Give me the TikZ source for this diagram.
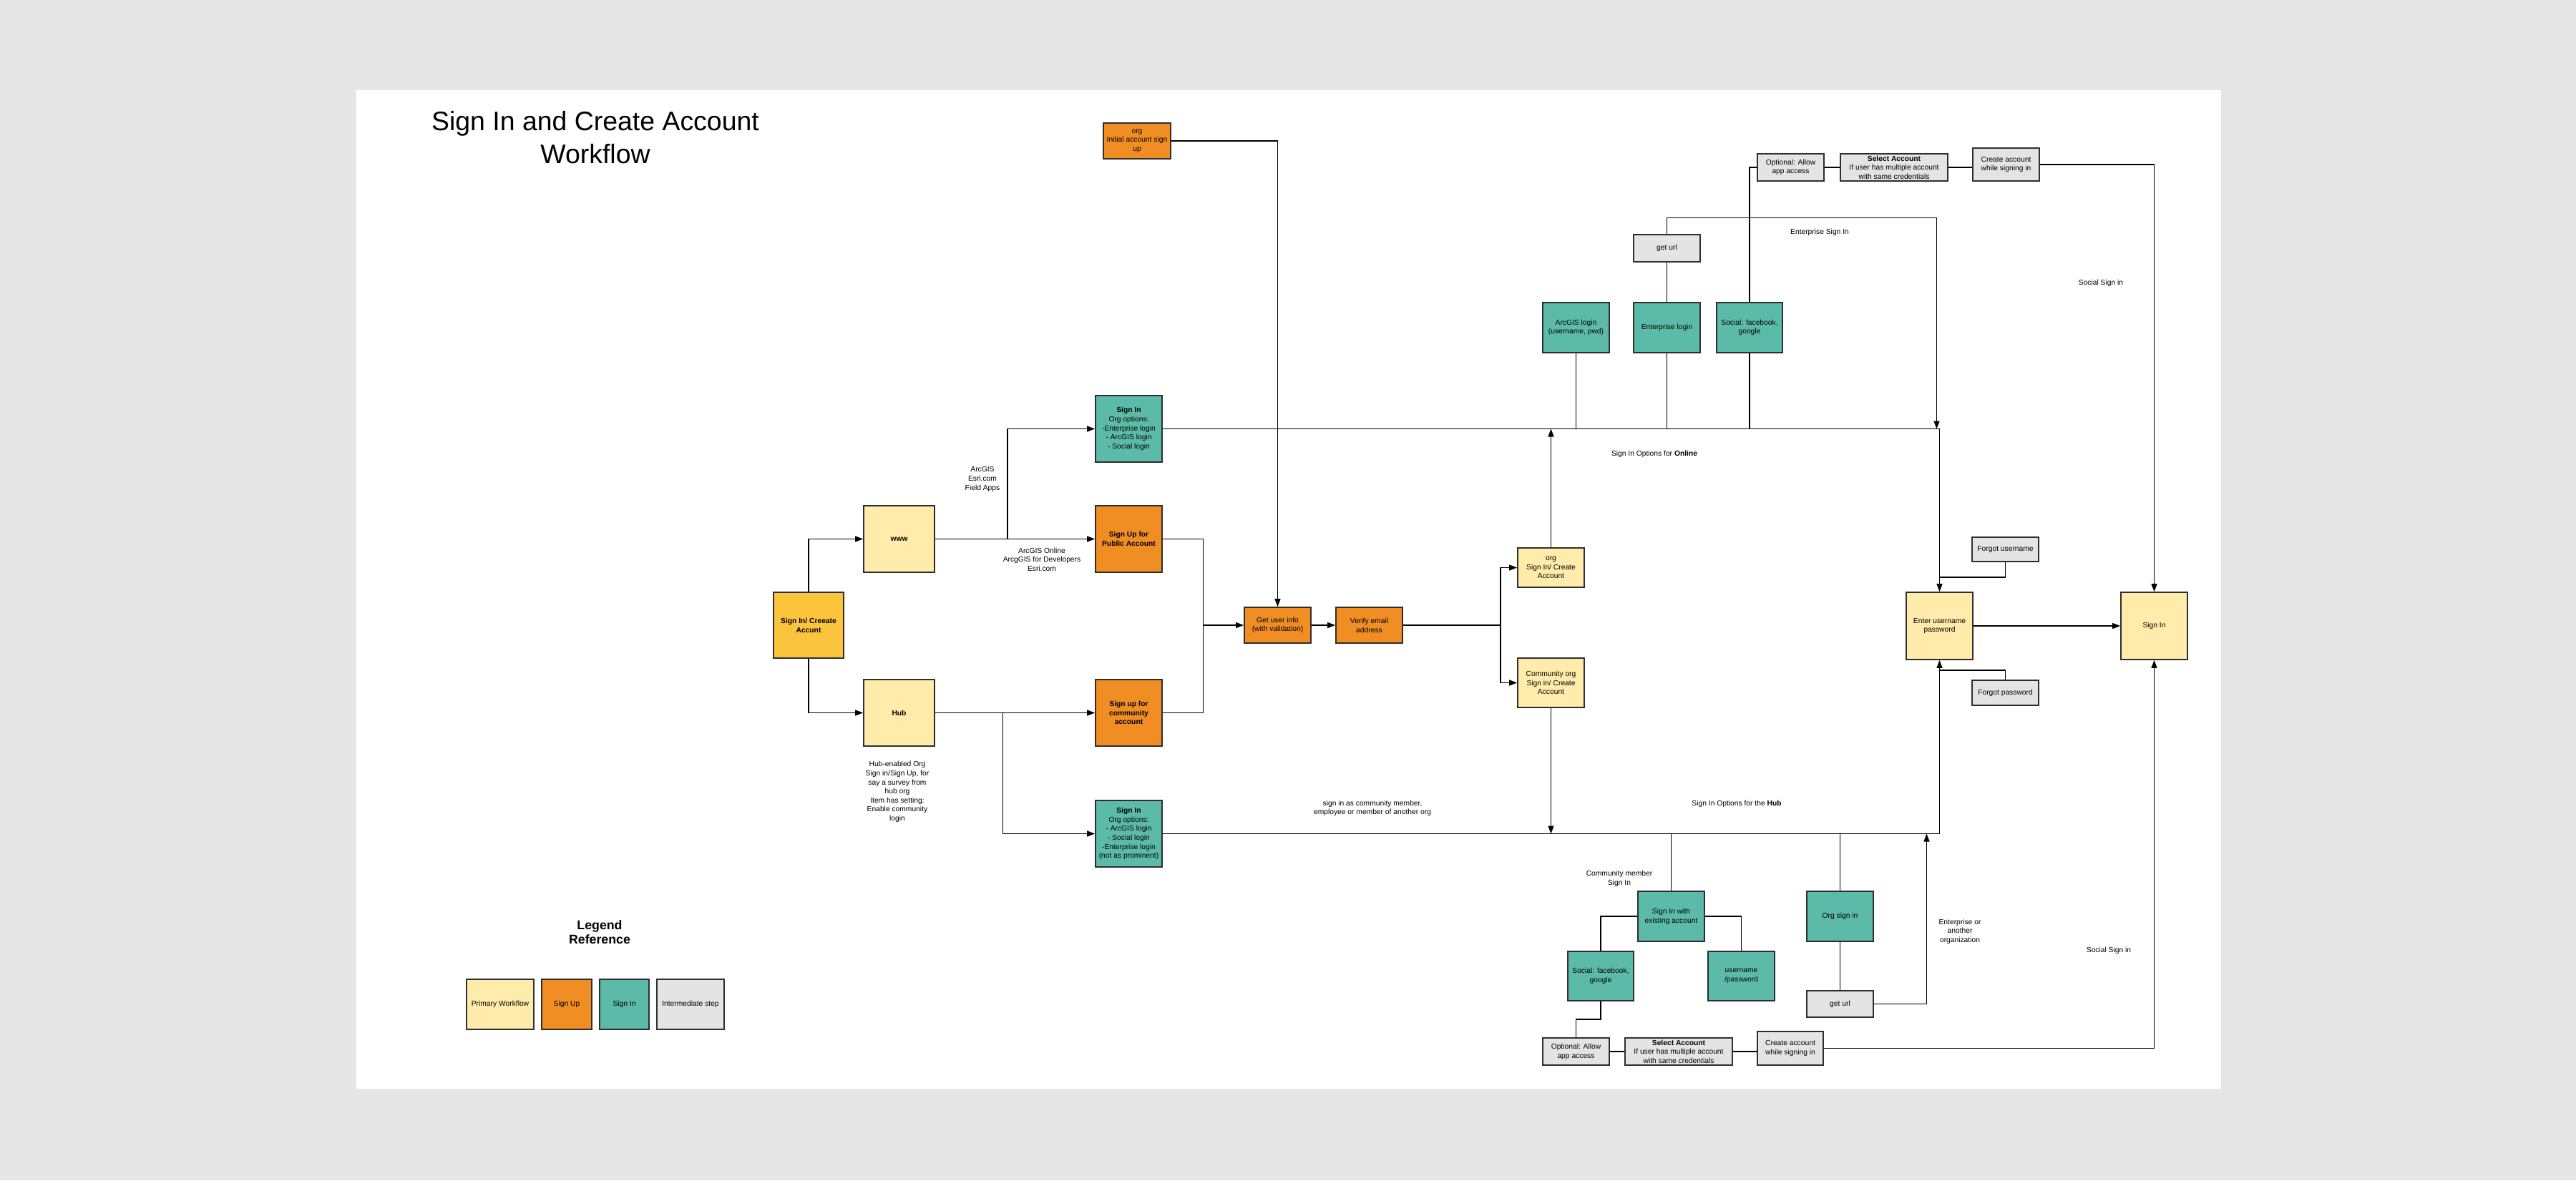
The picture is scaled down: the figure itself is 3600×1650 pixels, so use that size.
\documentclass[tikz,border=0pt]{standalone}
\usepackage{fontspec}
\setmainfont{Liberation Sans}
\usetikzlibrary{arrows.meta}
\definecolor{bgout}{HTML}{E6E6E6}
\definecolor{cpyel}{HTML}{FFECAA}
\definecolor{cdyel}{HTML}{FCC43C}
\definecolor{corng}{HTML}{F08E23}
\definecolor{cteal}{HTML}{5CBBA8}
\definecolor{cgray}{HTML}{E4E4E4}
\definecolor{cedge}{HTML}{2E2E2E}
\newcommand\fsm{\fontsize{5.85}{7.2}\selectfont}
\newcommand\mkbox[7]{\node[#6, minimum width={(#4-#2)*0.02cm}, minimum height={(#5-#3)*0.02cm}] (#1) at ({(#2+#4)/2},{(#3+#5)/2}) {#7};}
\tikzset{
  bx/.style={draw=cedge, line width=1.0pt, inner sep=0pt, align=center, font=\fsm},
  pw/.style={bx, fill=cpyel},
  sw/.style={bx, fill=cdyel},
  su/.style={bx, fill=corng},
  si/.style={bx, fill=cteal},
  ig/.style={bx, fill=cgray},
  lbl/.style={inner sep=0pt, align=center, font=\fsm},
  conn/.style={draw=black, line width=0.8pt},
  arr/.style={conn, -{Triangle[length=0.22cm,width=0.16cm]}}
}
\begin{document}
\begin{tikzpicture}[x=0.02cm,y=-0.02cm]
\useasboundingbox (0,0) rectangle (3600,1650);
\fill[bgout] (0,0) rectangle (3600,1650);
\fill[white] (498,126) rectangle (3104,1522);

% title
\node[inner sep=0pt, align=center, font=\fontsize{21.3}{26.1}\selectfont] (title) at (832,192) {Sign In and Create Account\\Workflow};

% primary flow
\mkbox{sca}{1081}{828}{1179}{920}{sw}{\textbf{Sign In/ Creeate}\\\textbf{Accunt}}
\mkbox{www}{1207}{707}{1306}{800}{pw}{\textbf{www}}
\mkbox{hub}{1207}{950}{1306}{1043}{pw}{\textbf{Hub}}
\mkbox{si1}{1531}{553}{1624}{646}{si}{\textbf{Sign In}\\Org options:\\-Enterprise login\\- ArcGIS login\\- Social login}
\mkbox{sup}{1531}{707}{1624}{800}{su}{\textbf{Sign Up for}\\\textbf{Public Account}}
\mkbox{suc}{1531}{950}{1624}{1043}{su}{\textbf{Sign up for}\\\textbf{community}\\\textbf{account}}
\mkbox{si2}{1531}{1119}{1624}{1212}{si}{\textbf{Sign In}\\Org options:\\- ArcGIS login\\- Social login\\-Enterprise login\\(not as prominent)}
\mkbox{org0}{1542}{172}{1636}{222}{su}{org\\Initial account sign\\up}
\mkbox{gui}{1739}{849}{1832}{899}{su}{Get user info\\(with validation)}
\mkbox{ver}{1867}{849}{1960}{899}{su}{Verify email\\address}
\mkbox{orgc}{2121}{766}{2214}{821}{pw}{org\\Sign In/ Create\\Account}
\mkbox{comm}{2121}{920}{2214}{989}{pw}{Community org\\Sign in/ Create\\Account}

% online sign in options
\mkbox{gu1}{2283}{328}{2376}{366}{ig}{get url}
\mkbox{agl}{2156}{423}{2249}{493}{si}{ArcGIS login\\(username, pwd)}
\mkbox{ent}{2283}{423}{2376}{493}{si}{Enterprise login}
\mkbox{soc1}{2399}{423}{2491}{493}{si}{Social: facebook,\\google}
\mkbox{opt1}{2456}{215}{2549}{253}{ig}{Optional: Allow\\app access}
\mkbox{sel1}{2572}{215}{2722}{253}{ig}{\textbf{Select Account}\\If user has multiple account\\with same credentials}
\mkbox{cre1}{2757}{207}{2850}{253}{ig}{Create account\\while signing in}

% right side
\mkbox{fu}{2756}{751}{2849}{785}{ig}{Forgot username}
\mkbox{eup}{2664}{828}{2757}{922}{pw}{Enter username\\password}
\mkbox{fp}{2756}{951}{2849}{986}{ig}{Forgot password}
\mkbox{sin}{2964}{828}{3057}{922}{pw}{Sign In}

% hub sign in options
\mkbox{sie}{2289}{1246}{2382}{1316}{si}{Sign In with\\existing account}
\mkbox{soc2}{2191}{1330}{2283}{1399}{si}{Social: facebook,\\google}
\mkbox{up2}{2387}{1330}{2480}{1399}{si}{username\\/password}
\mkbox{osi}{2525}{1246}{2618}{1316}{si}{Org sign in}
\mkbox{gu2}{2525}{1385}{2618}{1422}{ig}{get url}
\mkbox{opt2}{2156}{1451}{2249}{1489}{ig}{Optional: Allow\\app access}
\mkbox{sel2}{2271}{1451}{2421}{1489}{ig}{\textbf{Select Account}\\If user has multiple account\\with same credentials}
\mkbox{cre2}{2456}{1442}{2548}{1489}{ig}{Create account\\while signing in}

% legend
\node[inner sep=0pt, align=center, font=\fontsize{10.1}{11.7}\selectfont\bfseries] (legt) at (838,1303) {Legend\\Reference};
\mkbox{lg1}{652}{1369}{746}{1439}{pw}{Primary Workflow}
\mkbox{lg2}{757}{1369}{827}{1439}{su}{Sign Up}
\mkbox{lg3}{838}{1369}{907}{1439}{si}{Sign In}
\mkbox{lg4}{918}{1369}{1012}{1439}{ig}{Intermediate step}

% labels
\node[lbl] (l1) at (1373,670) {ArcGIS\\Esri.com\\Field Apps};
\node[lbl] (l2) at (1456,782) {ArcGIS Online\\ArcgGIS for Developers\\Esri.com};
\node[lbl] (l3) at (1254,1107) {Hub-enabled Org\\Sign in/Sign Up, for\\say a survey from\\hub org\\Item has setting:\\Enable community\\login};
\node[lbl] (l4) at (1918,1130) {sign in as community member,\\employee or member of another org};
\node[lbl] (l5) at (2543,325) {Enterprise Sign In};
\node[lbl] (l6) at (2312,635) {Sign In Options for \textbf{Online}};
\node[lbl] (l7) at (2936,396) {Social Sign in};
\node[lbl] (l8) at (2427,1124) {Sign In Options for the \textbf{Hub}};
\node[lbl] (l9) at (2263,1228) {Community member\\Sign In};
\node[lbl] (l10) at (2739,1302) {Enterprise or\\another\\organization};
\node[lbl] (l11) at (2947,1329) {Social Sign in};

% junction coordinates
\coordinate (j1) at (1408,753.5);
\coordinate (j2) at (1401.5,996.5);
\coordinate (j3) at (1681.5,874);
\coordinate (j4) at (2097,874);
\coordinate (kes) at (2706.5,304.5);
\coordinate (kfu) at (2710.5,807);
\coordinate (kfp) at (2710.5,937);
\coordinate (kgu) at (2692.5,1165.5);
\coordinate (k2) at (2202.5,1425);

% connectors: left part
\draw[arr] (sca.north) |- (www.west);
\draw[arr] (sca.south) |- (hub.west);
\draw[arr] (www.east) -- (sup.west);
\draw[arr] (j1) |- (si1.west);
\draw[arr] (hub.east) -- (suc.west);
\draw[arr] (j2) |- (si2.west);
\draw[conn] (sup.east) -| (j3);
\draw[conn] (suc.east) -| (j3);
\draw[arr] (j3) -- (gui.west);
\draw[arr] (org0.east) -| (gui.north);
\draw[arr] (gui.east) -- (ver.west);
\draw[conn] (ver.east) -- (j4);
\draw[arr] (j4) |- (orgc.west);
\draw[arr] (j4) |- (comm.west);

% online options
\draw[arr] (si1.east) -| (eup.north);
\draw[arr] (orgc.north) -- (orgc.north |- si1.east);
\draw[conn] (agl.south) -- (agl.south |- si1.east);
\draw[conn] (ent.south) -- (ent.south |- si1.east);
\draw[conn] (soc1.south) -- (soc1.south |- si1.east);
\draw[conn] (ent.north) -- (gu1.south);
\draw[arr] (gu1.north) |- (kes) -- (kes |- si1.east);
\draw[conn] (soc1.north) |- (opt1.west);
\draw[conn] (opt1.east) -- (sel1.west);
\draw[conn] (sel1.east) -- (sel1.east -| cre1.west);
\draw[arr] (cre1.east) -| (sin.north);

% right side
\draw[conn] (fu.south) |- (kfu);
\draw[conn] (fp.north) |- (kfp);
\draw[arr] (eup.east) -- (sin.west);

% hub options
\draw[arr] (si2.east) -| (eup.south);
\draw[arr] (comm.south) -- (comm.south |- si2.east);
\draw[conn] (sie.north) -- (sie.north |- si2.east);
\draw[conn] (osi.north) -- (osi.north |- si2.east);
\draw[conn] (sie.west) -| (soc2.north);
\draw[conn] (sie.east) -| (up2.north);
\draw[conn] (osi.south) -- (gu2.north);
\draw[arr] (gu2.east) -| (kgu);
\draw[conn] (soc2.south) |- (k2) -- (opt2.north);
\draw[conn] (opt2.east) -- (sel2.west);
\draw[conn] (sel2.east) -- (sel2.east -| cre2.west);
\draw[arr] (cre2.east) -| (sin.south);
\end{tikzpicture}
\end{document}
